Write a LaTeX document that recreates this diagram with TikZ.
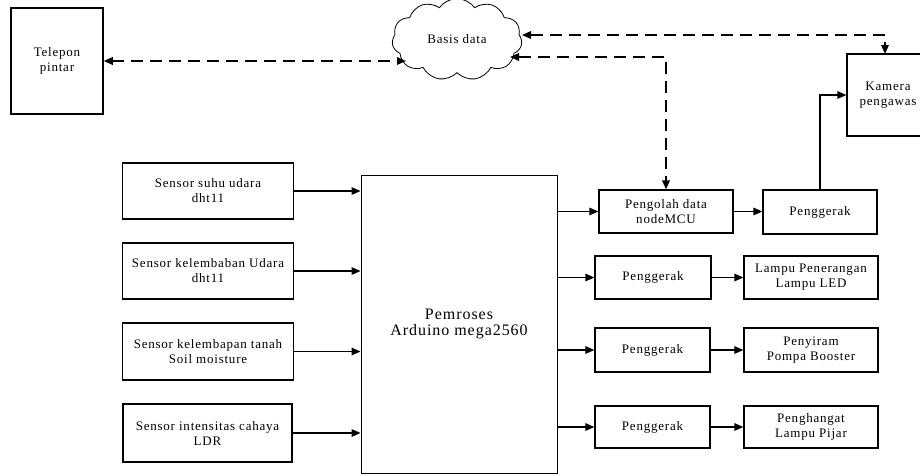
\documentclass[tikz,border=0pt]{standalone}
\usepackage{fontspec}
\setmainfont{Liberation Serif}[LetterSpace=6]
\usetikzlibrary{shapes.symbols,arrows.meta}
\begin{document}
\begin{tikzpicture}[x=1pt,y=-1pt,
  box/.style={draw,line width=1.2pt,align=center,inner sep=0pt,font=\fontsize{13}{15}\selectfont},
  conn/.style={line width=1.3pt,-{Triangle[length=9pt,width=7.5pt]}},
  dconn/.style={line width=1.7pt,dash pattern=on 12pt off 7pt,{Triangle[length=9pt,width=7.5pt]}-{Triangle[length=9pt,width=7.5pt]}}]
\useasboundingbox (0,0) rectangle (920,475);
\clip (0,0) rectangle (920,475);
% nodes
\node[box,line width=1.5pt,minimum width=92pt,minimum height=106pt] (tel) at (57,61) {Telepon\\pintar};
\node[cloud,draw,line width=0.8pt,cloud puffs=11,cloud puff arc=110,cloud ignores aspect,minimum width=130pt,minimum height=82pt,inner sep=0pt,font=\fontsize{13}{15}\selectfont] (cloud) at (457,39.5) {Basis data};
\node[box,minimum width=82pt,minimum height=82pt] (kam) at (888,95) {Kamera\\pengawas};

\node[box,minimum width=171pt,minimum height=56pt] (s1) at (208,191) {Sensor suhu udara\\dht11};
\node[box,minimum width=171pt,minimum height=56pt] (s2) at (208,271) {Sensor kelembaban Udara\\dht11};
\node[box,minimum width=171pt,minimum height=57pt] (s3) at (208,351.5) {Sensor kelembapan tanah\\Soil moisture};
\node[box,minimum width=169pt,minimum height=58pt] (s4) at (207.5,433) {Sensor intensitas cahaya\\LDR};

\node[draw,line width=0.9pt,minimum width=196pt,minimum height=298pt,align=center,inner sep=0pt,font=\fontsize{16}{16.5}\selectfont] (ard) at (459,324) {Pemroses\\Arduino mega2560};

\node[box,minimum width=134pt,minimum height=43pt] (mcu) at (666,211.5) {Pengolah data\\nodeMCU};
\node[box,minimum width=114pt,minimum height=44pt] (pg1) at (820,212) {Penggerak};
\node[box,minimum width=116pt,minimum height=43pt] (pg2) at (653,277.5) {Penggerak};
\node[box,minimum width=134pt,minimum height=43pt] (led) at (811,277.5) {Lampu Penerangan\\Lampu LED};
\node[box,minimum width=115pt,minimum height=44pt] (pg3) at (652.5,350) {Penggerak};
\node[box,minimum width=134pt,minimum height=44pt] (pomp) at (811,350) {Penyiram\\Pompa Booster};
\node[box,minimum width=115pt,minimum height=42pt] (pg4) at (652.5,427) {Penggerak};
\node[box,minimum width=134pt,minimum height=42pt] (pijar) at (811,427) {Penghangat\\Lampu Pijar};

% cloud attachment points
\coordinate (cl1) at (406,61);
\coordinate (cl2) at (522,35);
\coordinate (cl3) at (510,57);
\coordinate (kt) at (885,54);

% dashed connectors
\draw[dconn] (tel.east) -- (tel.east -| cl1);
\draw[dconn] (cl2) -| (kt);
\draw[dconn] (cl3) -| (mcu.north);

% sensors to arduino
\draw[conn] (s1.east) -- (s1.east -| ard.west);
\draw[conn] (s2.east) -- (s2.east -| ard.west);
\draw[conn] (s3.east) -- (s3.east -| ard.west);
\draw[conn] (s4.east) -- (s4.east -| ard.west);

% arduino to outputs
\draw[conn] (ard.east |- mcu.west) -- (mcu.west);
\draw[conn] (ard.east |- pg2.west) -- (pg2.west);
\draw[conn] (ard.east |- pg3.west) -- (pg3.west);
\draw[conn] (ard.east |- pg4.west) -- (pg4.west);

\draw[conn] (mcu.east) -- (mcu.east -| pg1.west);
\draw[conn] (pg2.east) -- (pg2.east -| led.west);
\draw[conn] (pg3.east) -- (pg3.east -| pomp.west);
\draw[conn] (pg4.east) -- (pg4.east -| pijar.west);

\draw[conn] (pg1.north) |- (kam.west);
\end{tikzpicture}
\end{document}
